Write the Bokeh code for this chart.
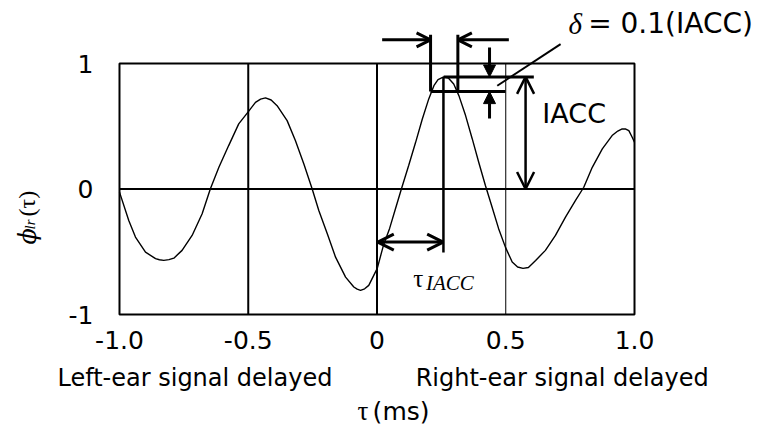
from math import pi
from bokeh.plotting import figure
from bokeh.models import Range1d, Arrow, OpenHead, NormalHead, Label
from bokeh.core.properties import value
from bokeh.embed import file_html
from bokeh.resources import INLINE

# interaural cross-correlation function
tau = [-1.0, -0.964, -0.938, -0.899, -0.860, -0.845, -0.828, -0.808, -0.789, -0.757, -0.718, -0.679,
       -0.647, -0.614, -0.576, -0.537, -0.501, -0.472, -0.452, -0.433, -0.411, -0.388, -0.349, -0.317,
       -0.284, -0.252, -0.226, -0.193, -0.161, -0.122, -0.090, -0.077, -0.064, -0.048, -0.032, 0.001,
       0.025, 0.049, 0.072, 0.095, 0.123, 0.150, 0.176, 0.201, 0.221, 0.237,
       0.259, 0.278, 0.298, 0.318, 0.344, 0.370, 0.395, 0.421, 0.445, 0.472,
       0.499, 0.525, 0.546, 0.567, 0.588, 0.616, 0.654, 0.693, 0.732, 0.771,
       0.803, 0.836, 0.875, 0.913, 0.935, 0.952, 0.966, 0.978, 0.991, 1.0]
phi = [-0.025, -0.251, -0.383, -0.503, -0.555, -0.564, -0.569, -0.563, -0.551, -0.489, -0.370, -0.197,
       0.002, 0.173, 0.346, 0.519, 0.613, 0.690, 0.716, 0.726, 0.709, 0.664, 0.545, 0.386,
       0.200, 0.002, -0.171, -0.356, -0.543, -0.702, -0.781, -0.798, -0.807, -0.795, -0.768, -0.632,
       -0.449, -0.314, -0.155, 0.002, 0.187, 0.372, 0.558, 0.718, 0.823, 0.871,
       0.893, 0.883, 0.837, 0.744, 0.585, 0.399, 0.213, 0.028, -0.131, -0.314,
       -0.465, -0.582, -0.621, -0.632, -0.625, -0.569, -0.489, -0.370, -0.224, -0.091,
       0.014, 0.173, 0.320, 0.426, 0.462, 0.479, 0.478, 0.465, 0.412, 0.372]

x_ticks = [-1, -0.5, 0, 0.5, 1]
x_tick_labels = ["-1.0", "-0.5", "0", "0.5", "1.0"]
y_ticks = [-1, 0, 1]
y_tick_labels = ["-1", "0", "1"]
grid_x = [-0.5, 0, 0.5]
grid_x_width = [2, 2, 1]

SANS = "DejaVu Sans"
SERIF = "Liberation Serif"

# the frame covers the whole canvas so that texts and arrows outside the data box are not clipped
p = figure(width=765, height=434, x_range=Range1d(-1.4621, 1.5087), y_range=Range1d(-1.956, 1.502),
           output_backend="svg", toolbar_location=None,
           x_axis_location=None, y_axis_location=None,
           min_border=0, min_border_left=0, min_border_right=0, min_border_top=0, min_border_bottom=0)
p.background_fill_color = "white"
p.border_fill_color = "white"
p.outline_line_color = None
p.grid.visible = False

xmin, xmax = x_ticks[0], x_ticks[-1]
ymin, ymax = y_ticks[0], y_ticks[-1]

# data box, grid lines and zero line
p.quad(left=xmin, right=xmax, bottom=ymin, top=ymax, fill_color=None, line_color="black", line_width=2)
p.segment(x0=grid_x, y0=[ymin] * 3, x1=grid_x, y1=[ymax] * 3, line_color="black", line_width=grid_x_width)
p.segment(x0=[xmin], y0=[0], x1=[xmax], y1=[0], line_color="black", line_width=2)

# tick labels
p.text(x=x_ticks, y=[-1.207] * len(x_ticks), text=x_tick_labels, text_font=value(SANS),
       text_font_size="25px", text_align="center", text_baseline="middle", text_color="black")
p.text(x=[-1.101] * len(y_ticks), y=y_ticks, text=y_tick_labels, text_font=value(SANS),
       text_font_size="25px", text_align="right", text_baseline="middle", text_color="black")

p.line(tau, phi, line_color="black", line_width=1.4)


def seg(x0, y0, x1, y1, w=3, start=None, end=None):
    p.add_layout(Arrow(x_start=x0, y_start=y0, x_end=x1, y_end=y1, line_width=w,
                       line_color="black", start=start, end=end))


def ohead(size, w=3):
    return OpenHead(size=size, line_width=w, line_color="black")


def fhead(size):
    return NormalHead(size=size, line_width=1, line_color="black", fill_color="black")


# delta construction
seg(0.020, 1.189, 0.208, 1.189, 3, end=ohead(14))
seg(0.512, 1.189, 0.314, 1.189, 3, end=ohead(14))
seg(0.208, 1.229, 0.208, 0.776, 3)
seg(0.314, 1.229, 0.314, 0.776, 3)
seg(0.259, 0.893, 0.609, 0.893, 3)
seg(0.208, 0.776, 0.499, 0.776, 3)
seg(0.437, 1.128, 0.437, 0.893, 3, end=fhead(12))
seg(0.437, 0.561, 0.437, 0.776, 3, end=fhead(12))
seg(0.467, 0.823, 0.713, 1.155, 2)
# IACC arrow
seg(0.577, 0.0, 0.577, 0.893, 2.5, start=ohead(17, 2.5), end=ohead(17, 2.5))
# tau_IACC
seg(0.258, 0.893, 0.258, -0.505, 2.5)
seg(0.003, -0.423, 0.257, -0.423, 3, start=ohead(16), end=ohead(16))


def lab(x, y, text, font=SANS, size="25px", style="normal", align="left", angle=0.0):
    p.add_layout(Label(x=x, y=y, text=text, text_font=font, text_font_size=size,
                       text_font_style=style, text_align=align, text_baseline="middle",
                       text_color="black", angle=angle))


lab(0.642, 0.600, "IACC", size="27px")
lab(0.744, 1.317, "\u03b4", font=SERIF, size="29px", style="italic")
lab(0.820, 1.317, "= 0.1(IACC)", size="28px")
lab(0.141, -0.716, "\u03c4", font=SERIF, size="25px")
lab(0.190, -0.752, "IACC", font=SERIF, size="21px", style="italic")

lab(-1.241, -1.507, "Left-ear signal delayed", size="24px")
lab(0.150, -1.507, "Right-ear signal delayed", size="24px")
lab(-0.076, -1.770, "\u03c4", font=SERIF, size="27px")
lab(-0.017, -1.770, "(ms)", size="25px")

lab(-1.357, -0.442, "\u03d5", font="DejaVu Serif", size="24px", style="italic", angle=pi / 2)
lab(-1.349, -0.322, "lr", font=SERIF, size="15px", style="italic", angle=pi / 2)
lab(-1.359, -0.219, "(\u03c4)", font=SERIF, size="24px", angle=pi / 2)

open("out.html", "w").write(file_html(p, INLINE))
